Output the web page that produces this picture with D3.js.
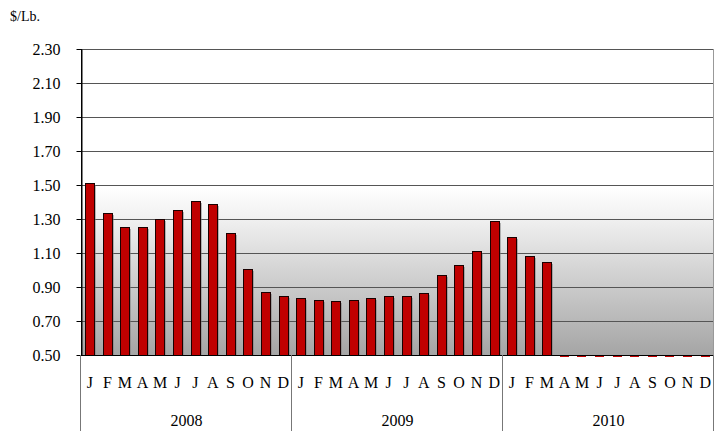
<!DOCTYPE html>
<html>
<head>
<meta charset="utf-8">
<script src="https://cdn.jsdelivr.net/npm/d3@7"></script>
<style>
  body { margin: 0; background: #fff; }
  text { font-family: "Liberation Serif", "Times New Roman", serif; fill: #000; }
</style>
</head>
<body>
<div class="chart"></div>
<script>
// Monthly prices, $/Lb.
var years = ["2008", "2009", "2010"];
var months = ["J", "F", "M", "A", "M", "J", "J", "A", "S", "O", "N", "D"];
var prices2008 = [1.51, 1.337, 1.251, 1.251, 1.30, 1.355, 1.408, 1.388, 1.218, 1.004, 0.872, 0.845];
var prices2009 = [0.835, 0.822, 0.816, 0.822, 0.835, 0.849, 0.845, 0.867, 0.969, 1.028, 1.114, 1.286];
var prices2010 = [1.192, 1.080, 1.045, 0, 0, 0, 0, 0, 0, 0, 0, 0];
var yTicks = [0.5, 0.7, 0.9, 1.1, 1.3, 1.5, 1.7, 1.9, 2.1, 2.3];

var data = [];
[prices2008, prices2009, prices2010].forEach((arr, yi) => {
    arr.forEach((v, mi) => {
        data.push({ key: years[yi] + "-" + mi, year: years[yi], month: months[mi], value: v });
    });
});

var width = 715, height = 431;
var padL = 81, padR = 714, padT = 49, padB = 355;

var svg = d3.select(".chart")
    .append("svg")
    .attr("width", width)
    .attr("height", height);

var xScale = d3.scaleBand()
    .domain(data.map((d) => d.key))
    .range([padL, padR])
    .paddingInner(0.465)
    .paddingOuter(0.2325);

var yScale = d3.scaleLinear()
    .domain([0.5, 2.3])
    .range([padB, padT]);

// Background gradient of the plot area
var defs = svg.append("defs");
var grad = defs.append("linearGradient")
    .attr("id", "bg")
    .attr("x1", 0).attr("y1", 0).attr("x2", 0).attr("y2", 1);
grad.append("stop").attr("offset", "0%").attr("stop-color", "#ffffff");
grad.append("stop").attr("offset", "45%").attr("stop-color", "#ffffff");
grad.append("stop").attr("offset", "55%").attr("stop-color", "#f1f1f1");
grad.append("stop").attr("offset", "100%").attr("stop-color", "#a5a5a5");

svg.append("rect")
    .attr("x", padL)
    .attr("y", padT)
    .attr("width", padR - padL)
    .attr("height", padB - padT)
    .attr("fill", "url(#bg)");

// Gridlines
svg.append("g")
    .selectAll("line")
    .data(yTicks.slice(1))
    .enter()
    .append("line")
    .attr("x1", padL)
    .attr("x2", padR - 1)
    .attr("y1", (d) => Math.round(yScale(d)) + 0.5)
    .attr("y2", (d) => Math.round(yScale(d)) + 0.5)
    .attr("stroke", "#555")
    .attr("stroke-width", 1);

// right border of plot area
svg.append("line")
    .attr("x1", padR - 0.5).attr("x2", padR - 0.5)
    .attr("y1", padT).attr("y2", padB)
    .attr("stroke", "#999");

// Bars: shadow then bar
var bw = xScale.bandwidth();
var shown = data.filter((d) => d.value >= 0.5);
var clipped = data.filter((d) => d.value < 0.5);

svg.append("g")
    .selectAll("rect")
    .data(shown)
    .enter()
    .append("rect")
    .attr("x", (d) => Math.round(xScale(d.key)) + 2)
    .attr("y", (d) => Math.round(yScale(d.value)) + 2)
    .attr("width", Math.round(bw))
    .attr("height", (d) => padB - Math.round(yScale(d.value)) - 2)
    .attr("fill", "#777")
    .attr("opacity", 0.5);

svg.append("g")
    .selectAll("rect")
    .data(shown)
    .enter()
    .append("rect")
    .attr("x", (d) => Math.round(xScale(d.key)) + 0.5)
    .attr("y", (d) => Math.round(yScale(d.value)) + 0.5)
    .attr("width", Math.round(bw))
    .attr("height", (d) => padB - Math.round(yScale(d.value)))
    .attr("fill", "#c00000")
    .attr("stroke", "#1a0000")
    .attr("stroke-width", 1);

// values below the axis minimum show as a thin stub
svg.append("g")
    .selectAll("rect")
    .data(clipped)
    .enter()
    .append("rect")
    .attr("x", (d) => Math.round(xScale(d.key)))
    .attr("y", padB)
    .attr("width", Math.round(bw))
    .attr("height", 2)
    .attr("fill", "#c00000");

// Y axis
var yAxis = svg.append("g")
    .attr("transform", "translate(" + (padL + 0.5) + ",0)")
    .call(d3.axisLeft(yScale)
        .tickValues(yTicks)
        .tickFormat(d3.format(".2f"))
        .tickSize(5)
        .tickSizeOuter(0)
        .tickPadding(16));
yAxis.select(".domain").attr("stroke", "#000");
yAxis.selectAll(".tick line").attr("stroke", "#000");
yAxis.selectAll(".tick text")
    .attr("font-size", "16px")
    .attr("font-family", "Liberation Serif");

// X axis line
svg.append("line")
    .attr("x1", padL).attr("x2", padR)
    .attr("y1", padB + 0.5).attr("y2", padB + 0.5)
    .attr("stroke", "#000");

// Month labels
svg.append("g")
    .selectAll("text")
    .data(data)
    .enter()
    .append("text")
    .attr("x", (d) => xScale(d.key) + bw / 2)
    .attr("y", 388)
    .attr("text-anchor", "middle")
    .attr("font-size", "16px")
    .text((d) => d.month);

// Year groups and separators
var yearStep = (padR - padL) / years.length;
svg.append("g")
    .selectAll("line")
    .data(d3.range(years.length + 1))
    .enter()
    .append("line")
    .attr("x1", (i) => Math.round(padL + i * yearStep) - 0.5)
    .attr("x2", (i) => Math.round(padL + i * yearStep) - 0.5)
    .attr("y1", padB)
    .attr("y2", height)
    .attr("stroke", "#777");

svg.append("line")
    .attr("x1", padL + 0.5).attr("x2", padL + 0.5)
    .attr("y1", padT).attr("y2", padB)
    .attr("stroke", "#000");

svg.append("g")
    .selectAll("text")
    .data(years)
    .enter()
    .append("text")
    .attr("x", (d, i) => padL + (i + 0.5) * yearStep)
    .attr("y", 426)
    .attr("text-anchor", "middle")
    .attr("font-size", "16px")
    .text((d) => d);

// Unit label
svg.append("text")
    .text("$/Lb.")
    .attr("x", 10)
    .attr("y", 21)
    .attr("font-size", "14px");
</script>
</body>
</html>
